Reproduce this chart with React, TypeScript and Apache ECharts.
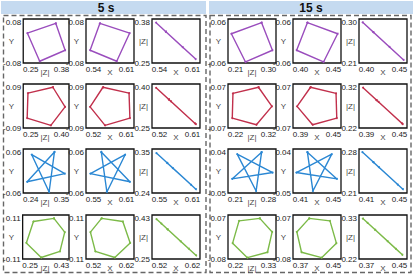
import React, { useEffect, useRef } from "react";
import * as echarts from "echarts";

// ---------- DATA ----------
const panelTitles = ["5 s", "15 s"];
const shapeColors = ["#9a4dbd", "#c1304c", "#2a87d3", "#7cba48"];
const xNames = ["|Z|", "X", "X"];
const yNames = ["Y", "Y", "|Z|"];

// axis ranges [row] for each panel
const xRange5 = [[0.54, 0.61], [0.52, 0.61], [0.55, 0.61], [0.52, 0.62]];
const yRange5 = [[-0.08, 0.08], [-0.09, 0.09], [-0.06, 0.06], [-0.11, 0.11]];
const zRange5 = [[0.25, 0.38], [0.25, 0.40], [0.24, 0.35], [0.25, 0.43]];
const xRange15 = [[0.40, 0.45], [0.39, 0.45], [0.41, 0.45], [0.37, 0.45]];
const yRange15 = [[-0.06, 0.06], [-0.07, 0.07], [-0.05, 0.04], [-0.08, 0.07]];
const zRange15 = [[0.21, 0.30], [0.22, 0.32], [0.21, 0.28], [0.22, 0.33]];

// 5 s shapes (vertices in drawing order)
const sq5X = [0.5603, 0.6037, 0.5848, 0.5460];
const sq5Y = [0.0643, 0.0288, -0.0736, -0.0336];
const sq5Z = [0.3423, 0.2617, 0.2968, 0.3690];
const pe5X = [0.5518, 0.6007, 0.6023, 0.5557, 0.5277];
const pe5Y = [0.0767, 0.0527, -0.0493, -0.0792, -0.0034];
const pe5Z = [0.3471, 0.2655, 0.2629, 0.3405, 0.3871];
const st5X = [0.5691, 0.6049, 0.5555, 0.5989, 0.5761];
const st5Y = [0.0518, -0.0294, -0.0072, 0.0445, -0.0572];
const st5Z = [0.3150, 0.2494, 0.3399, 0.2604, 0.3022];
const hx5X = [0.5525, 0.5967, 0.6120, 0.5800, 0.5395, 0.5292];
const hx5Y = [0.0933, 0.0774, -0.0297, -0.1025, -0.0717, 0.0242];
const hx5Z = [0.3715, 0.2919, 0.2644, 0.3220, 0.3949, 0.4134];

// 15 s shapes
const sq15X = [0.4150, 0.4465, 0.4318, 0.4038];
const sq15Y = [0.0499, 0.0197, -0.0572, -0.0252];
const sq15Z = [0.2730, 0.2163, 0.2428, 0.2933];
const pe15X = [0.4119, 0.4438, 0.4447, 0.4145, 0.3951];
const pe15Y = [0.0596, 0.0400, -0.0386, -0.0596, -0.0011];
const pe15Z = [0.2835, 0.2303, 0.2289, 0.2792, 0.3115];
const st15X = [0.4220, 0.4466, 0.4128, 0.4423, 0.4266];
const st15Y = [0.0335, -0.0212, -0.0082, 0.0294, -0.0460];
const st15Z = [0.2590, 0.2160, 0.2751, 0.2234, 0.2510];
const hx15X = [0.3970, 0.4316, 0.4423, 0.4177, 0.3842, 0.3764];
const hx15Y = [0.0585, 0.0498, -0.0260, -0.0755, -0.0569, 0.0123];
const hx15Z = [0.2929, 0.2453, 0.2306, 0.2644, 0.3105, 0.3212];

const shapes5 = [
  [sq5X, sq5Y, sq5Z],
  [pe5X, pe5Y, pe5Z],
  [st5X, st5Y, st5Z],
  [hx5X, hx5Y, hx5Z],
];
const shapes15 = [
  [sq15X, sq15Y, sq15Z],
  [pe15X, pe15Y, pe15Z],
  [st15X, st15Y, st15Z],
  [hx15X, hx15Y, hx15Z],
];

// ---------- LAYOUT ----------
const colLefts = [
  [21, 86, 152],
  [228, 293, 359],
];
const boxW = 48;
const rowTops = [19, 84, 149, 215];
const boxH = 44;
const FONT = "'Liberation Sans', Arial, sans-serif";

export default function App() {
  const ref = useRef<HTMLDivElement>(null);

  useEffect(() => {
    if (!ref.current) return;
    const chart = echarts.init(ref.current, undefined, { renderer: "svg" });

    const grids: any[] = [];
    const xAxes: any[] = [];
    const yAxes: any[] = [];
    const series: any[] = [];
    const graphic: any[] = [];

    const panels = [
      { shapes: shapes5, xr: xRange5, yr: yRange5, zr: zRange5 },
      { shapes: shapes15, xr: xRange15, yr: yRange15, zr: zRange15 },
    ];

    const fmt = (v: number) => v.toFixed(2);

    panels.forEach((p, pi) => {
      p.shapes.forEach((sh, ri) => {
        const [X, Y, Z] = sh;
        const n = X.length;
        const cols = [
          { xs: Z, ys: Y, xr: p.zr[ri], yr: p.yr[ri] },
          { xs: X, ys: Y, xr: p.xr[ri], yr: p.yr[ri] },
          { xs: X, ys: Z, xr: p.xr[ri], yr: p.zr[ri] },
        ];
        cols.forEach((c, ci) => {
          const gi = grids.length;
          const left = colLefts[pi][ci];
          const top = rowTops[ri];
          grids.push({
            left,
            top,
            width: boxW,
            height: boxH,
            show: true,
            borderColor: "#111",
            borderWidth: 1.3,
            backgroundColor: "#fff",
            containLabel: false,
          });
          const [xmin, xmax] = c.xr;
          const [ymin, ymax] = c.yr;
          xAxes.push({
            type: "value",
            gridIndex: gi,
            min: xmin,
            max: xmax,
            axisLine: { show: false },
            axisTick: { show: false },
            splitLine: { show: false },
            axisLabel: {
              customValues: [xmin, xmax],
              margin: 2,
              fontSize: 8,
              color: "#222",
              fontFamily: FONT,
              formatter: (v: number) =>
                Math.abs(v - xmin) < 1e-9 ? `{l|${fmt(v)}}` : `{r|${fmt(v)}}`,
              rich: {
                l: { fontSize: 8, color: "#222", fontFamily: FONT, padding: [0, 0, 0, 15] },
                r: { fontSize: 8, color: "#222", fontFamily: FONT, padding: [0, 15, 0, 0] },
              },
            },
          });
          yAxes.push({
            type: "value",
            gridIndex: gi,
            min: ymin,
            max: ymax,
            axisLine: { show: false },
            axisTick: { show: false },
            splitLine: { show: false },
            axisLabel: {
              customValues: [ymin, ymax],
              margin: 2,
              fontSize: 8,
              color: "#222",
              fontFamily: FONT,
              formatter: (v: number) =>
                Math.abs(v - ymax) < 1e-9 ? `{t|${fmt(v)}}` : `{b|${fmt(v)}}`,
              rich: {
                t: { fontSize: 8, color: "#222", fontFamily: FONT, padding: [6, 0, 0, 0] },
                b: { fontSize: 8, color: "#222", fontFamily: FONT },
              },
            },
          });
          // axis names
          graphic.push({
            type: "text",
            x: left - (ci === 2 ? 4 : 7),
            y: top + boxH / 2,
            style: {
              text: yNames[ci],
              fontSize: 8,
              fontFamily: FONT,
              fill: "#444",
              textAlign: "right",
              textVerticalAlign: "middle",
            },
          });
          graphic.push({
            type: "text",
            x: left + boxW / 2,
            y: top + boxH + 9,
            style: {
              text: xNames[ci],
              fontSize: 8,
              fontFamily: FONT,
              fill: "#444",
              textAlign: "center",
              textVerticalAlign: "middle",
            },
          });
          const data: number[][] = [];
          for (let k = 0; k <= n; k++) {
            const idx = k % n;
            data.push([c.xs[idx], c.ys[idx]]);
          }
          series.push({
            type: "line",
            xAxisIndex: gi,
            yAxisIndex: gi,
            data,
            symbol: "circle",
            symbolSize: 2,
            showSymbol: true,
            lineStyle: { color: shapeColors[ri], width: 1.4 },
            itemStyle: { color: shapeColors[ri] },
            z: 3,
          });
        });
      });
    });

    graphic.push(
      { type: "rect", shape: { x: 1, y: 1, width: 205, height: 13 }, style: { fill: "#c5daf0" }, z: -1 },
      { type: "rect", shape: { x: 209, y: 1, width: 204, height: 13 }, style: { fill: "#c5daf0" }, z: -1 },
      {
        type: "text",
        x: 106,
        y: 8,
        style: {
          text: panelTitles[0],
          fontSize: 12,
          fontWeight: "bold",
          fontFamily: FONT,
          fill: "#111",
          textAlign: "center",
          textVerticalAlign: "middle",
        },
      },
      {
        type: "text",
        x: 311,
        y: 8,
        style: {
          text: panelTitles[1],
          fontSize: 12,
          fontWeight: "bold",
          fontFamily: FONT,
          fill: "#111",
          textAlign: "center",
          textVerticalAlign: "middle",
        },
      },
      {
        type: "rect",
        shape: { x: 3.5, y: 15.5, width: 202.5, height: 257 },
        style: { fill: "none", stroke: "#666", lineWidth: 1.4, lineDash: [5, 3] },
        z: -1,
      },
      {
        type: "rect",
        shape: { x: 210, y: 15.5, width: 201, height: 257 },
        style: { fill: "none", stroke: "#666", lineWidth: 1.4, lineDash: [5, 3] },
        z: -1,
      }
    );

    chart.setOption({
      animation: false,
      backgroundColor: "#fff",
      grid: grids,
      xAxis: xAxes,
      yAxis: yAxes,
      series,
      graphic,
    });

    return () => chart.dispose();
  }, []);

  return (
    <div
      ref={ref}
      style={{ position: "fixed", left: 0, top: 0, width: 415, height: 278 }}
    />
  );
}
